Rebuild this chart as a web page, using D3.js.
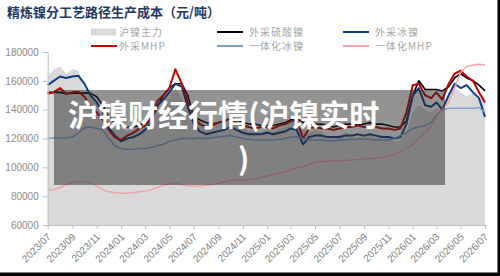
<!DOCTYPE html>
<html><head><meta charset="utf-8">
<script src="https://cdn.jsdelivr.net/npm/d3@7"></script>
<style>html,body{margin:0;padding:0;background:#fff;}svg{display:block}</style>
</head><body>
<script>
// ---- data (semi-monthly readings) ----
const dates = ["2023-07-01","2023-07-16","2023-08-01","2023-08-16","2023-09-01","2023-09-16","2023-10-01","2023-10-16","2023-11-01","2023-11-16","2023-12-01","2023-12-16",
"2024-01-01","2024-01-16","2024-02-01","2024-02-16","2024-03-01","2024-03-16","2024-04-01","2024-04-16","2024-05-01","2024-05-16","2024-06-01","2024-06-16",
"2024-07-01","2024-07-16","2024-08-01","2024-08-16","2024-09-01","2024-09-16","2024-10-01","2024-10-16","2024-11-01","2024-11-16","2024-12-01","2024-12-16",
"2025-01-01","2025-01-16","2025-02-01","2025-02-16","2025-03-01","2025-03-16","2025-04-01","2025-04-16","2025-05-01","2025-05-16","2025-06-01","2025-06-16",
"2025-07-01","2025-07-16","2025-08-01","2025-08-16","2025-09-01","2025-09-16","2025-10-01","2025-10-16","2025-11-01","2025-11-16","2025-12-01","2025-12-16",
"2026-01-01","2026-01-16","2026-02-01","2026-02-16","2026-03-01","2026-03-16","2026-04-01","2026-04-16","2026-05-01","2026-05-16","2026-06-01","2026-06-16","2026-07-01"];
// 沪镍主力
const shNickel = [163000,168000,170000,165000,168000,167000,155000,150000,145000,138000,133000,128000,
127000,125000,126000,130000,134000,133000,137000,143000,148000,155000,148000,142000,
138000,133000,128000,127000,130000,131000,135000,132000,128000,125000,126000,124000,
126000,125000,127000,128000,132000,131000,126000,124000,126000,125000,121000,120000,
122000,124000,122000,121000,122000,123000,121000,122000,120000,118000,119000,124000,
138000,143000,140000,138000,141000,139000,150000,155000,152000,149000,152000,146000,150000];
// 外采硫酸镍
const sulfateBuy = [152000,152000,152000,151000,151500,151500,151500,151500,149000,143000,135000,131000,
129000,128000,128000,129000,131000,133000,142000,150000,155000,158000,158000,150000,
135000,133000,131000,130000,131000,132000,134000,133000,131000,130000,130000,129000,
129000,129000,130000,131000,133000,134000,131000,130000,130000,130000,129000,128000,
129000,130000,130000,130000,130000,131000,130000,130000,129000,128000,128000,132000,
150000,160000,154000,154000,154000,153000,156000,162000,165000,162000,160000,157000,153000];
// 外采冰镍
const matteBuy = [157000,160000,163000,162000,163000,163500,158000,150000,145000,138000,128000,122000,
118000,120000,121000,123000,126000,131000,143000,147000,152000,158000,156000,142000,
130000,125000,123000,124000,125000,126000,128000,126000,124000,123000,123000,123000,
124000,123000,124000,125000,127000,126000,116000,121000,122000,122000,121000,121000,
121000,122000,122000,123000,122000,123000,122000,121000,121000,120000,121000,130000,
150000,155000,143000,142000,145000,140000,150000,158000,155000,157000,152000,148000,135000];
// 外采MHP
const mhpBuy = [151000,152000,155000,151000,152000,152500,149000,143000,138000,133000,126000,121000,
119000,122000,124000,127000,129000,134000,146000,150000,155000,168000,158000,145000,
135000,130000,128000,129000,131000,132000,134000,131000,129000,128000,127000,128000,
128000,127000,129000,130000,132000,133000,120000,127000,128000,127000,127000,126000,
127000,128000,128000,129000,128000,129000,128000,127000,127000,126000,127000,138000,
157000,158000,150000,148000,152000,147000,158000,165000,167000,163000,160000,152000,145000];
// 一体化冰镍
const matteInt = [120000,120500,120300,120500,121000,124000,127500,128000,127000,126000,120000,115000,
113000,112500,112500,113000,113000,114000,115000,116000,118000,119000,120000,120000,
120000,120500,120000,120500,121000,121500,122000,121000,120000,119500,119000,119000,
119000,119000,119500,120000,121000,121000,120000,119000,119000,119000,118500,118500,
119000,119000,119500,119500,119500,119500,119000,119000,119000,120000,122000,124000,
127000,128000,129000,131000,136000,140000,141000,141000,141000,141000,141000,141500,138000];
// 一体化MHP
const mhpInt = [84000,84500,86000,88000,89500,90000,90000,89500,87000,84500,83000,82500,
82000,82000,82500,83000,83500,84500,86000,87500,88500,89000,88000,87000,
87000,87000,87500,88000,89000,90000,91000,91500,91000,91500,92000,93000,
94000,95000,96000,97000,98500,99500,100500,102000,103500,104000,104000,104500,
104500,105000,105000,105500,106000,106000,106500,107000,108000,109000,111000,113000,
116000,120000,124000,129000,135000,140000,145000,155000,166000,170000,171000,171500,171000];

const yTicks = [60000,80000,100000,120000,140000,160000,180000];
const xTickLabels = ["2023/07","2023/09","2023/11","2024/01","2024/03","2024/05","2024/07","2024/09","2024/11",
"2025/01","2025/03","2025/05","2025/07","2025/09","2025/11","2026/01","2026/03","2026/05","2026/07"];
const titleText = "精炼镍分工艺路径生产成本（元/吨）";
const seriesNames = ["沪镍主力","外采硫酸镍","外采冰镍","外采MHP","一体化冰镍","一体化MHP"];
const watermarkLines = ["沪镍财经行情(沪镍实时", ")"];

// ---- drawing ----
const W = 500, H = 276;
const svg = d3.select("body").append("svg").attr("width", W).attr("height", H);
svg.append("rect").attr("width", W).attr("height", H).attr("fill", "#fff");

const parse = d3.utcParse("%Y-%m-%d");
const parseTick = d3.utcParse("%Y/%m");
const dts = dates.map(parse);
const x = d3.scaleUtc().domain([parseTick("2023/07"), parseTick("2026/07")]).range([47.7, 485]);
const y = d3.scaleLinear().domain([60000, 180000]).range([225, 52]);

const colors = ["#d9d9d9", "#000000", "#0d3c8c", "#c00000", "#7f9fcf", "#f4a3ad"];
const widths = [0, 1.6, 2, 2, 1.5, 1.5];
const lineSeries = [sulfateBuy, matteBuy, mhpBuy, matteInt, mhpInt];

// area
const area = d3.area().x((d, i) => x(dts[i])).y0(y(60000)).y1(d => y(d));
svg.append("path").datum(shNickel).attr("d", area).attr("fill", colors[0]);

// lines
const line = d3.line().x((d, i) => x(dts[i])).y(d => y(d));
lineSeries.forEach((s, k) => {
  svg.append("path").datum(s).attr("d", line).attr("fill", "none")
    .attr("stroke", colors[k + 1]).attr("stroke-width", widths[k + 1]).attr("stroke-linejoin", "round");
});

// axes
const axisColor = "#bfbfbf";
const yAxis = svg.append("g").attr("transform", "translate(47.7,0)")
  .call(d3.axisLeft(y).tickValues(yTicks).tickFormat(d3.format("d")).tickSize(5).tickSizeOuter(0).tickPadding(4));
yAxis.select(".domain").attr("stroke", axisColor);
yAxis.selectAll(".tick line").attr("stroke", axisColor);
yAxis.selectAll("text").attr("fill", "#8c8c8c").style("font-family", "'Liberation Sans', Arial, sans-serif").style("font-size", "10px");

const xAxis = svg.append("g").attr("transform", "translate(0,225)")
  .call(d3.axisBottom(x).tickValues(xTickLabels.map(parseTick)).tickFormat(d3.utcFormat("%Y/%m")).tickSize(4).tickSizeOuter(0));
xAxis.select(".domain").attr("stroke", axisColor);
xAxis.selectAll(".tick line").attr("stroke", axisColor);
xAxis.selectAll("text").attr("fill", "#7f7f7f").style("font-family", "'Liberation Sans', Arial, sans-serif").style("font-size", "10px")
  .attr("x", 0).attr("y", 0).attr("dy", "0.35em").attr("transform", "translate(1,10) rotate(-45)").style("text-anchor", "end");

// title
svg.append("text").attr("x", 7).attr("y", 17).text(titleText)
  .attr("fill", "#1f3864").style("font-family", "'Noto Sans CJK SC', sans-serif").style("font-weight", "bold").style("font-size", "13px");

// legend
const legend = svg.append("g");
seriesNames.forEach((name, i) => {
  const col = i % 3, row = Math.floor(i / 3);
  const lx = 91 + col * 126, ly = 32 + row * 14;
  const g = legend.append("g");
  if (i === 0) {
    g.append("rect").attr("x", lx).attr("y", ly - 3.5).attr("width", 25).attr("height", 7).attr("fill", colors[0]);
  } else {
    g.append("line").attr("x1", lx).attr("x2", lx + 26).attr("y1", ly).attr("y2", ly)
      .attr("stroke", colors[i]).attr("stroke-width", 2);
  }
  g.append("text").attr("x", lx + (col === 0 ? 28 : 32)).attr("y", ly + 3.5).text(name)
    .attr("fill", "#a6a6a6").style("font-family", "'Noto Sans CJK SC', sans-serif").style("font-size", "10px")
    .style("letter-spacing", "1px");
});

// watermark overlay
svg.append("rect").attr("x", 54).attr("y", 90).attr("width", 391).attr("height", 95).attr("fill", "rgba(40,40,40,0.5)");
svg.append("text").attr("x", 68).attr("y", 126).text(watermarkLines[0])
  .attr("fill", "#fff").style("font-family", "'Noto Sans CJK SC', sans-serif").style("font-weight", "bold").style("font-size", "30px");
svg.append("text").attr("x", 238).attr("y", 170).text(watermarkLines[1])
  .attr("fill", "#fff").style("font-family", "'Noto Sans CJK SC', sans-serif").style("font-weight", "bold").style("font-size", "30px");

// frame edges
svg.append("rect").attr("x", 497.5).attr("y", 0).attr("width", 2.5).attr("height", H).attr("fill", "#000");
svg.append("rect").attr("x", 0).attr("y", 272.5).attr("width", W).attr("height", 3.5).attr("fill", "#000");
</script>
</body></html>
